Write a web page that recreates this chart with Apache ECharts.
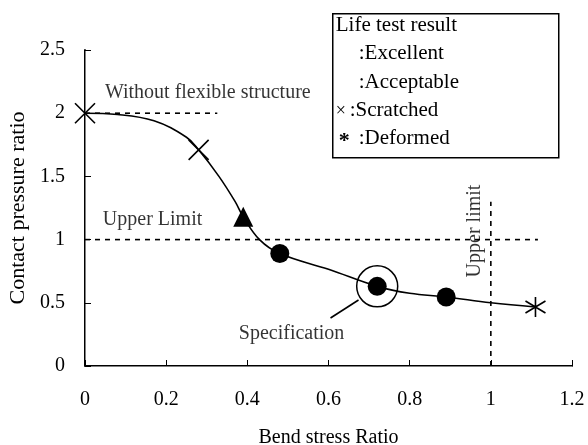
<!DOCTYPE html>
<html lang="en">
<head>
    <meta charset="UTF-8">
    <title>Contact pressure vs bend stress</title>
    <script type="text/javascript" src="https://cdn.jsdelivr.net/npm/echarts@6/dist/echarts.min.js"></script>
    <style>
        html, body { margin: 0; padding: 0; background: #fff; }
        #main { width: 588px; height: 445px; }
    </style>
</head>
<body>
<div id="main"></div>
<script type="text/javascript">
    // data
    var xTicks = [0, 0.2, 0.4, 0.6, 0.8, 1, 1.2];
    var yTicks = [0, 0.5, 1, 1.5, 2, 2.5];

    var curve = [[0, 2.0], [0.08, 1.99], [0.17, 1.94], [0.25, 1.81], [0.28, 1.71], [0.33, 1.5],
        [0.37, 1.3], [0.39, 1.18], [0.43, 1.0], [0.48, 0.89], [0.6, 0.765], [0.72, 0.63],
        [0.8, 0.575], [0.89, 0.546], [1.0, 0.5], [1.11, 0.467]];
    var scratched = [[0, 2.0], [0.28, 1.71]];
    var acceptable = [[0.39, 1.18]];
    var excellent = [[0.48, 0.89], [0.72, 0.63], [0.89, 0.546]];
    var deformed = [[1.11, 0.467]];
    var spec = [[0.72, 0.63]];
    var specLeader = [[0.674, 0.522], [0.605, 0.38]];

    var withoutFlexLine = [[0, 2], [0.326, 2]];
    var upperLimitH = [[0, 1], [1.116, 1]];
    var upperLimitV = [[1, 0], [1, 1.3]];

    var notes = [
        {name: 'Without flexible structure', value: [0.049, 2.16], align: 'left', rotate: 0},
        {name: 'Upper Limit', value: [0.044, 1.155], align: 'left', rotate: 0},
        {name: 'Specification', value: [0.509, 0.255], align: 'center', rotate: 0},
        {name: 'Upper limit', value: [0.961, 1.068], align: 'center', rotate: 90}
    ];

    var legendLines = ['Life test result', ':Excellent', ':Acceptable', ':Scratched', ':Deformed'];

    var FONT = 'Liberation Serif';
    var crossPath = 'path://M0,0L20,20M20,0L0,20';
    var starPath = 'path://M10,0L10,20M1.5,4L18.5,16M1.5,16L18.5,4';

    function dashed(name, data) {
        return {
            name: name, type: 'line', data: data, symbol: 'none', silent: true,
            lineStyle: {color: '#000', width: 1.6, type: [5, 5]}, z: 2
        };
    }

    const myChart = echarts.init(document.getElementById('main'), null, {renderer: 'canvas'});
    myChart.setOption({
        animation: false,
        backgroundColor: '#fff',
        textStyle: {fontFamily: FONT, color: '#000'},
        grid: {left: 85, right: 16, top: 50, bottom: 79, containLabel: false, outerBoundsMode: 'none'},
        xAxis: [{
            type: 'value', min: 0, max: 1.2, interval: 0.2,
            name: 'Bend stress Ratio', nameLocation: 'middle', nameGap: 62,
            nameTextStyle: {fontFamily: FONT, fontSize: 20, color: '#000'},
            axisLine: {lineStyle: {color: '#000', width: 2}},
            axisTick: {inside: true, length: 6, lineStyle: {color: '#000'}},
            axisLabel: {fontFamily: FONT, fontSize: 20, color: '#000', margin: 24},
            splitLine: {show: false}
        }, {
            type: 'value', min: 0, max: 1.2, position: 'top',
            axisLine: {show: true, lineStyle: {color: '#808080', width: 1}},
            axisTick: {show: false}, axisLabel: {show: false}, splitLine: {show: false}
        }],
        yAxis: [{
            type: 'value', min: 0, max: 2.5, interval: 0.5,
            name: 'Contact pressure ratio', nameLocation: 'middle', nameGap: 56,
            nameTextStyle: {fontFamily: FONT, fontSize: 22, color: '#000'},
            axisLine: {show: true, lineStyle: {color: '#000', width: 2}},
            axisTick: {show: true, inside: true, length: 6, lineStyle: {color: '#000'}},
            axisLabel: {fontFamily: FONT, fontSize: 20, color: '#000', margin: 20},
            splitLine: {show: false}
        }, {
            type: 'value', min: 0, max: 2.5, position: 'right',
            axisLine: {show: true, lineStyle: {color: '#808080', width: 1}},
            axisTick: {show: false}, axisLabel: {show: false}, splitLine: {show: false}
        }],
        series: [
            dashed('without flexible structure', withoutFlexLine),
            dashed('upper limit h', upperLimitH),
            dashed('upper limit v', upperLimitV),
            {
                name: 'curve', type: 'line', data: curve, smooth: 0.4, symbol: 'none',
                lineStyle: {color: '#000', width: 1.6}, z: 3
            },
            {
                name: 'Scratched', type: 'scatter', data: scratched, symbol: crossPath, symbolSize: 20,
                itemStyle: {color: '#000', borderColor: '#000', borderWidth: 1.6, opacity: 1}, z: 5
            },
            {
                name: 'Acceptable', type: 'scatter', data: acceptable, symbol: 'triangle', symbolSize: 20,
                itemStyle: {color: '#000', opacity: 1}, z: 5
            },
            {
                name: 'Excellent', type: 'scatter', data: excellent, symbol: 'circle', symbolSize: 19,
                itemStyle: {color: '#000', opacity: 1}, z: 5
            },
            {
                name: 'Deformed', type: 'scatter', data: deformed, symbol: starPath, symbolSize: 20,
                itemStyle: {color: '#000', borderColor: '#000', borderWidth: 1.6, opacity: 1}, z: 5
            },
            {
                name: 'spec ring', type: 'scatter', data: spec, symbol: 'circle', symbolSize: 41,
                itemStyle: {color: 'rgba(0,0,0,0)', borderColor: '#000', borderWidth: 1.5, opacity: 1}, z: 4
            },
            {
                name: 'spec leader', type: 'line', data: specLeader, symbol: 'none',
                lineStyle: {color: '#000', width: 1.6}, z: 4
            },
            {
                name: 'notes', type: 'scatter', symbolSize: 0, silent: true, z: 6,
                data: notes.map(function (n) {
                    return {
                        name: n.name, value: n.value,
                        label: {
                            show: true, position: 'inside', formatter: n.name, rotate: n.rotate,
                            align: n.align, verticalAlign: 'middle',
                            fontFamily: FONT, fontSize: 20, color: '#000'
                        }
                    };
                })
            }
        ],
        graphic: [{
            type: 'group', left: 332, top: 13, z: 100,
            children: [
                {
                    type: 'rect', shape: {x: 0, y: 0, width: 226, height: 144},
                    style: {fill: '#fff', stroke: '#000', lineWidth: 1.5}
                },
                {type: 'text', x: 3, y: 12, style: {text: legendLines[0], font: '21px "Liberation Serif"', fill: '#000', verticalAlign: 'middle'}},
                {type: 'text', x: 26, y: 40, style: {text: legendLines[1], font: '21px "Liberation Serif"', fill: '#000', verticalAlign: 'middle'}},
                {type: 'text', x: 26, y: 69, style: {text: legendLines[2], font: '21px "Liberation Serif"', fill: '#000', verticalAlign: 'middle'}},
                {type: 'text', x: 3, y: 98, style: {text: '\u00d7', font: '18px "Liberation Serif"', fill: '#000', verticalAlign: 'middle'}},
                {type: 'text', x: 17, y: 97, style: {text: legendLines[3], font: '21px "Liberation Serif"', fill: '#000', verticalAlign: 'middle'}},
                {type: 'text', x: 6, y: 128, style: {text: '*', font: 'bold 22px "Liberation Serif"', fill: '#000', verticalAlign: 'middle'}},
                {type: 'text', x: 26, y: 125, style: {text: legendLines[4], font: '21px "Liberation Serif"', fill: '#000', verticalAlign: 'middle'}}
            ]
        }]
    });
</script>
</body>
</html>
